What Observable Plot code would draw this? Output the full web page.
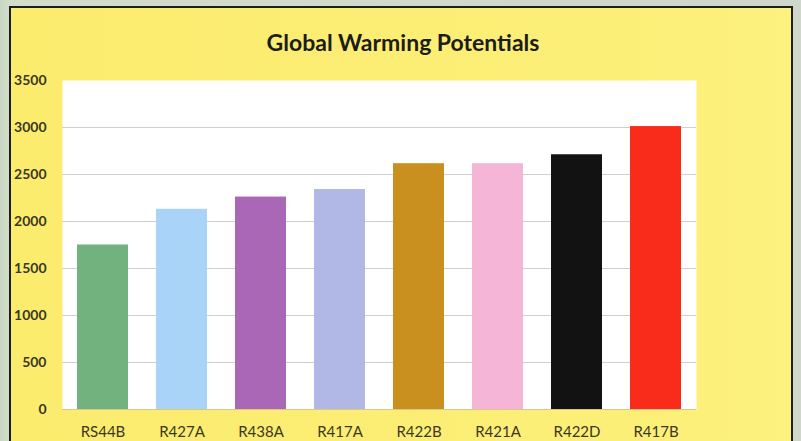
<!DOCTYPE html>
<html>
<head>
<meta charset="utf-8">
<script src="https://cdn.jsdelivr.net/npm/d3@7"></script>
<script src="https://cdn.jsdelivr.net/npm/@observablehq/plot@0.6"></script>
<style>
  html, body { margin: 0; padding: 0; }
  body { width: 801px; height: 441px; overflow: hidden; position: relative;
         background: linear-gradient(90deg, #c9d8c2 0px, #d2dccb 10px, #cfd6cc 100%); }
  #panel { position: absolute; left: 9px; top: 6px; width: 784px; height: 440px;
           background: linear-gradient(90deg, #fbec6e 0%, #fcef78 80%, #fdf27f 100%);
           border: 2px solid #1e1e1a; box-sizing: border-box; }
  #title { position: absolute; left: 0; top: 28px; width: 806px; text-align: center;
           font-family: Lato, "Open Sans", sans-serif; font-weight: 700; font-size: 23px; color: #1c1c18; }
  #chart { position: absolute; left: 0; top: 0; }
</style>
</head>
<body>
<div id="panel"></div>
<div id="title">Global Warming Potentials</div>
<div id="chart"></div>
<script>
const categories = ["RS44B", "R427A", "R438A", "R417A", "R422B", "R421A", "R422D", "R417B"];
const gwp = [1750, 2130, 2260, 2340, 2615, 2615, 2710, 3010];
const barColors = ["#72b27e", "#a9d3f7", "#a967b5", "#b1b8e6", "#c98f1f", "#f5b5d6", "#121212", "#f92b1a"];
const yTicks = [0, 500, 1000, 1500, 2000, 2500, 3000, 3500];

const data = categories.map((c, i) => ({name: c, value: gwp[i]}));

const chart = Plot.plot({
  width: 801,
  height: 441,
  marginLeft: 62,
  marginRight: 105,
  marginTop: 80,
  marginBottom: 32,
  style: {background: "transparent", fontFamily: "Lato, 'Open Sans', sans-serif", overflow: "visible"},
  x: {domain: categories, paddingInner: 0.355, paddingOuter: 0.18, label: null},
  y: {domain: [0, 3500], label: null},
  color: {domain: categories, range: barColors},
  marks: [
    Plot.frame({fill: "white", stroke: null}),
    Plot.gridY(yTicks.filter(t => t > 0 && t < 3500), {stroke: "#cfcfcf", strokeOpacity: 1, strokeWidth: 1}),
    Plot.ruleY([0], {stroke: "#d8c98a", strokeWidth: 1}),
    Plot.barY(data, {x: "name", y: "value", fill: "name"}),
    Plot.axisY(yTicks, {tickSize: 0, tickPadding: 16, fontSize: 14, fontWeight: 700, fill: "#3b381f", tickFormat: d => String(d)}),
    Plot.axisX({tickSize: 0, tickPadding: 17, fontSize: 15, fill: "#3b381f"})
  ]
});
document.getElementById("chart").appendChild(chart);
</script>
</body>
</html>
